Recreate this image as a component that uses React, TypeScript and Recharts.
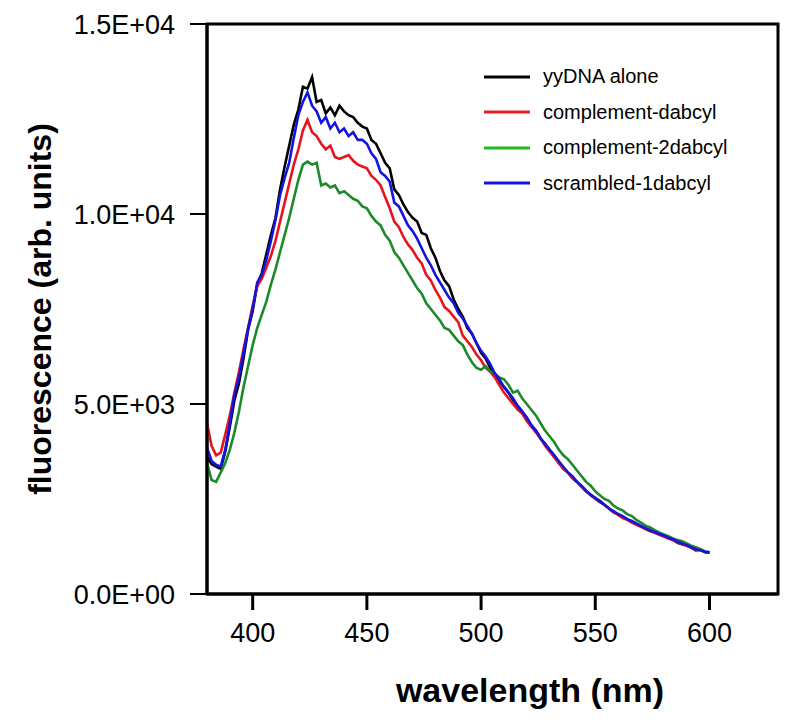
import React from 'react';
import { LineChart, Line, XAxis, YAxis, ReferenceArea, Legend, Label } from 'recharts';

const wavelengths = [
  380, 382, 384, 386, 388, 390, 392, 394, 396, 398,
  400, 402, 404, 406, 408, 410, 412, 414, 416, 418,
  420, 422, 424, 426, 428, 430, 432, 434, 436, 438,
  440, 442, 444, 446, 448, 450, 452, 454, 456, 458,
  460, 462, 464, 466, 468, 470, 472, 474, 476, 478,
  480, 482, 484, 486, 488, 490, 492, 494, 496, 498,
  500, 502, 504, 506, 508, 510, 512, 514, 516, 518,
  520, 522, 524, 526, 528, 530, 532, 534, 536, 538,
  540, 542, 544, 546, 548, 550, 552, 554, 556, 558,
  560, 562, 564, 566, 568, 570, 572, 574, 576, 578,
  580, 582, 584, 586, 588, 590, 592, 594, 596, 598,
  600,
];

const yyDNAalone = [
  3600, 3420, 3350, 3290, 3750, 4400, 5100, 5550, 6200, 6950,
  7450, 8150, 8450, 8950, 9450, 9900, 10650, 11250, 11800, 12350,
  12750, 13350, 13300, 13600, 12950, 13000, 12650, 12800, 12600, 12850,
  12700, 12600, 12550, 12400, 12300, 12250, 11950, 11850, 11600, 11350,
  11200, 10650, 10500, 10250, 10050, 9900, 9800, 9500, 9450, 9100,
  8850, 8500, 8250, 8100, 7750, 7500, 7300, 7000, 6850, 6600,
  6350, 6200, 5950, 5800, 5600, 5450, 5300, 5100, 4950, 4800,
  4600, 4420, 4300, 4100, 3950, 3780, 3650, 3450, 3300, 3200,
  3050, 2950, 2830, 2700, 2620, 2520, 2450, 2350, 2250, 2150,
  2100, 2030, 1960, 1900, 1850, 1780, 1720, 1680, 1620, 1580,
  1530, 1470, 1430, 1350, 1310, 1280, 1220, 1150, 1170, 1100,
  1090,
];

const complementDabcyl = [
  4500, 3900, 3650, 3720, 4200, 4700, 5300, 5850, 6450, 7000,
  7600, 8100, 8300, 8600, 8900, 9300, 9800, 10300, 10800, 11300,
  11700, 12200, 12480, 12150, 12050, 11850, 11700, 11800, 11500, 11450,
  11500, 11550, 11400, 11300, 11250, 11200, 11000, 10900, 10750, 10450,
  10150, 9800, 9650, 9400, 9200, 9050, 8850, 8700, 8400, 8250,
  8000, 7800, 7550, 7450, 7300, 7150, 6800, 6650, 6500, 6300,
  6150, 5950, 5850, 5700, 5500, 5300, 5150, 5000, 4850, 4750,
  4550, 4400, 4250, 4100, 3900, 3750, 3600, 3450, 3300, 3200,
  3050, 2950, 2820, 2700, 2600, 2500, 2420, 2350, 2250, 2150,
  2080, 2000, 1950, 1880, 1820, 1770, 1710, 1650, 1610, 1560,
  1510, 1460, 1420, 1360, 1310, 1270, 1220, 1160, 1150, 1110,
  1100,
];

const complement2dabcyl = [
  3450, 3000, 2950, 3200, 3450, 3800, 4250, 4800, 5450, 6000,
  6550, 7000, 7350, 7700, 8150, 8550, 9000, 9450, 9900, 10400,
  10900, 11300, 11380, 11300, 11350, 10750, 10800, 10700, 10750, 10550,
  10600, 10500, 10400, 10350, 10200, 10150, 9950, 9800, 9700, 9450,
  9300, 9000, 8850, 8650, 8450, 8250, 8050, 7900, 7650, 7500,
  7350, 7200, 7000, 6950, 6800, 6650, 6550, 6300, 6100, 5950,
  5900, 6000, 5850, 5800, 5700, 5650, 5500, 5300, 5350, 5150,
  5000, 4850, 4700, 4500, 4300, 4150, 4000, 3800, 3650, 3550,
  3400, 3250, 3100, 2950, 2850, 2700, 2600, 2500, 2450, 2330,
  2250, 2200, 2100, 2050, 1950, 1880, 1800, 1750, 1680, 1620,
  1570, 1520, 1460, 1420, 1390, 1330, 1270, 1230, 1180, 1120,
  1100,
];

const scrambled1dabcyl = [
  3850, 3500, 3400, 3350, 3800, 4500, 5250, 5700, 6350, 7000,
  7500, 8200, 8400, 8800, 9300, 9850, 10500, 10950, 11350, 12000,
  12600, 12950, 13200, 12850, 12700, 12400, 12550, 12250, 12400, 12150,
  12250, 12050, 12150, 11950, 11950, 11850, 11600, 11450, 11100, 11000,
  10850, 10300, 10200, 9950, 9700, 9550, 9350, 9100, 8850, 8650,
  8400, 8200, 8000, 7800, 7650, 7400, 7250, 7050, 6850, 6600,
  6400, 6250, 6050, 5800, 5650, 5450, 5300, 5150, 4950, 4800,
  4650, 4450, 4300, 4100, 3950, 3800, 3650, 3500, 3350, 3200,
  3100, 2950, 2850, 2720, 2600, 2530, 2430, 2350, 2250, 2180,
  2100, 2050, 1970, 1920, 1850, 1790, 1730, 1670, 1630, 1580,
  1540, 1480, 1440, 1380, 1330, 1290, 1230, 1180, 1150, 1110,
  1100,
];

const seriesNames = ['yyDNA alone', 'complement-dabcyl', 'complement-2dabcyl', 'scrambled-1dabcyl'];
const seriesKeys = ['yy', 'c1', 'c2', 's1'];
const lineColors = ['#000000', '#e8141c', '#1c8a2a', '#1414e0'];
const legendColors = ['#000000', '#ee1c24', '#22bb22', '#1414e0'];

const xTicks = [400, 450, 500, 550, 600];
const yTicks = [0, 5000, 10000, 15000];
const yTickLabels = ['0.0E+00', '5.0E+03', '1.0E+04', '1.5E+04'];

const data = wavelengths.map((w, i) => ({
  w,
  yy: yyDNAalone[i],
  c1: complementDabcyl[i],
  c2: complement2dabcyl[i],
  s1: scrambled1dabcyl[i],
}));

const FONT = '"Liberation Sans", Arial, Helvetica, sans-serif';

const LegendContent = () => (
  <div style={{ fontFamily: FONT }}>
    {seriesNames.map((n, i) => (
      <div key={n} style={{ display: 'flex', alignItems: 'center', height: 35.5 }}>
        <svg width={46} height={6} style={{ marginRight: 13 }}>
          <line x1={0} y1={3} x2={46} y2={3} stroke={legendColors[i]} strokeWidth={3} />
        </svg>
        <span style={{ fontSize: 20, color: '#000', whiteSpace: 'nowrap' }}>{n}</span>
      </div>
    ))}
  </div>
);

export default function App() {
  return (
    <LineChart
      width={784}
      height={706}
      data={data}
      margin={{ top: 16, right: 14, bottom: 0, left: 0 }}
    >
      <ReferenceArea
        x1={380}
        x2={630}
        y1={0}
        y2={15000}
        fill="none"
        stroke="#000"
        strokeWidth={3}
        ifOverflow="visible"
      />
      <XAxis
        dataKey="w"
        type="number"
        domain={[380, 630]}
        ticks={xTicks}
        allowDataOverflow
        height={120}
        tickSize={16}
        tickMargin={13}
        axisLine={{ stroke: '#000', strokeWidth: 3 }}
        tickLine={{ stroke: '#000', strokeWidth: 3 }}
        tick={{ fill: '#000', fontSize: 27, fontFamily: FONT }}
      >
        <Label
          content={() => (
            <text
              x={522}
              y={682}
              textAnchor="middle"
              dominantBaseline="central"
              style={{ fontFamily: FONT, fontSize: 34, fontWeight: 'bold', fill: '#000' }}
            >
              wavelength (nm)
            </text>
          )}
        />
      </XAxis>
      <YAxis
        type="number"
        domain={[0, 15000]}
        ticks={yTicks}
        width={199}
        tickSize={17}
        tickMargin={15}
        tickFormatter={(v: number) => yTickLabels[yTicks.indexOf(v)]}
        axisLine={{ stroke: '#000', strokeWidth: 3 }}
        tickLine={{ stroke: '#000', strokeWidth: 2 }}
        tick={{ fill: '#000', fontSize: 27, fontFamily: FONT }}
      >
        <Label
          content={() => (
            <text
              x={32}
              y={301}
              transform="rotate(-90 32 301)"
              textAnchor="middle"
              dominantBaseline="central"
              style={{ fontFamily: FONT, fontSize: 32, fontWeight: 'bold', fill: '#000' }}
            >
              fluorescence (arb. units)
            </text>
          )}
        />
      </YAxis>
      <Legend
        layout="vertical"
        align="center"
        verticalAlign="middle"
        content={LegendContent}
        wrapperStyle={{ left: 476, top: 51, width: 300, height: 150 }}
      />
      {seriesKeys.map((k, i) => (
        <Line
          key={k}
          type="linear"
          dataKey={k}
          name={seriesNames[i]}
          stroke={lineColors[i]}
          strokeWidth={2.6}
          dot={false}
          isAnimationActive={false}
        />
      ))}
    </LineChart>
  );
}
